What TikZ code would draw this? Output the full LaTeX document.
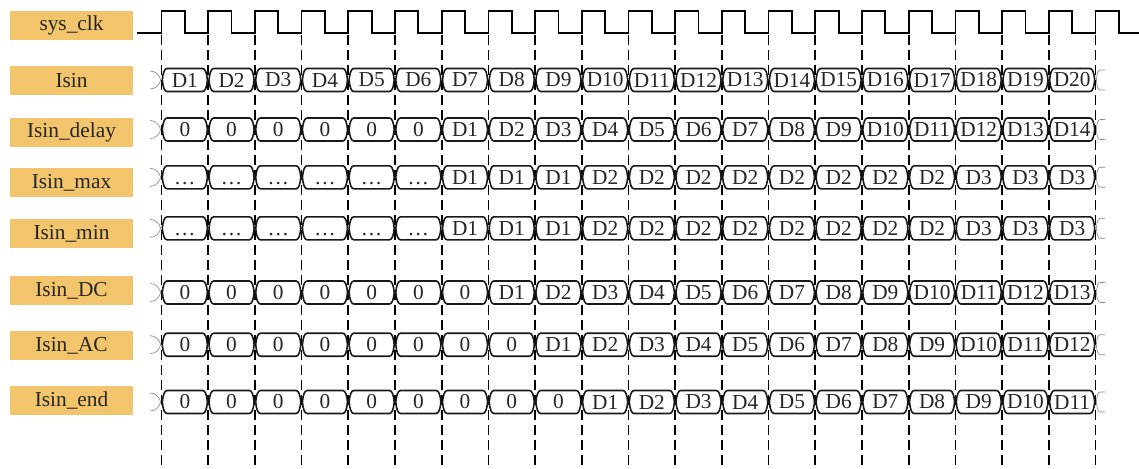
\documentclass[tikz,border=0pt]{standalone}
\usepackage{fontspec}
\setmainfont{Liberation Serif}
\usetikzlibrary{positioning}

\definecolor{labelgold}{HTML}{F2C46C}
\definecolor{leadgray}{HTML}{8C8C8C}

% one bus row: name, y of the centre line, values of the 20 cells
\newcommand{\busrow}[3]{%
  \draw[lead] (150,#2-9) .. controls (156,#2-9) and (159,#2-5) .. (160.8,#2);
  \draw[lead] (150,#2+9) .. controls (156,#2+9) and (159,#2+5) .. (160.8,#2);
  \foreach \val [count=\k from 0] in {#3} {
    \pgfmathsetmacro{\xl}{161.5+\k*46.7}
    \pgfmathsetmacro{\xr}{\xl+46.7}
    \draw[bus] (\xl+0.8,#2) .. controls (\xl+1.4,#2-7) and (\xl+3,#2-11.5) .. (\xl+5.5,#2-11.5)
      -- (\xr-5.5,#2-11.5) .. controls (\xr-3,#2-11.5) and (\xr-1.4,#2-7) .. (\xr-0.8,#2)
      .. controls (\xr-1.4,#2+7) and (\xr-3,#2+11.5) .. (\xr-5.5,#2+11.5)
      -- (\xl+5.5,#2+11.5) .. controls (\xl+3,#2+11.5) and (\xl+1.4,#2+7) .. cycle;
    \node[cell] (#1-\k) at (\xl+23.35,#2) {\vphantom{D}\val};
  }
  \draw[lead] (1096.3,#2) .. controls (1097,#2-7) and (1098,#2-10) .. (1100.5,#2-10) -- (1105,#2-10);
  \draw[lead] (1096.3,#2) .. controls (1097,#2+7) and (1098,#2+10) .. (1100.5,#2+10) -- (1105,#2+10);
}

\begin{document}
\begin{tikzpicture}[
  x=0.75pt, y=-0.75pt,
  lbl/.style={fill=labelgold, minimum width=92.25pt, minimum height=21.75pt, inner sep=0pt, font=\fontsize{16}{19}\selectfont, text=black!85},
  cell/.style={inner sep=0pt, font=\fontsize{16}{19}\selectfont, text=black!85},
  bus/.style={line width=1.2pt, black!90, line join=round},
  lead/.style={line width=0.5pt, leadgray},
  clk/.style={line width=1.3pt, black},
  guide/.style={line width=1.3pt, black, dash pattern=on 7.5pt off 3.75pt}
]
\useasboundingbox (0,0) rectangle (1139,468);

% Signal names
\node[lbl] (clk)   at (71.5,25)    {sys\_clk};
\node[lbl] (isin)  at (71.5,80.8)  {Isin};
\node[lbl] (delay) at (71.5,132)   {Isin\_delay};
\node[lbl] (max)   at (71.5,182.5) {Isin\_max};
\node[lbl] (min)   at (71.5,233.8) {Isin\_min};
\node[lbl] (dc)    at (71.5,290.5) {Isin\_DC};
\node[lbl] (ac)    at (71.5,345.5) {Isin\_AC};
\node[lbl] (end)   at (71.5,400.5) {Isin\_end};

% Clock edges
\foreach \i in {0,...,20} {
  \coordinate (t\i) at (161.5+\i*46.7,35);
  \coordinate (b\i) at (161.5+\i*46.7,468);
  \draw[guide] (t\i) -- (b\i);
}
\draw[clk] (137,33) foreach \i in {0,...,20} {
  -- (161.5+\i*46.7,33) -- (161.5+\i*46.7,11) -- (184.85+\i*46.7,11) -- (184.85+\i*46.7,33)
} -- (1139,33);

% Buses
\busrow{isin}{80}{D1,D2,D3,D4,D5,D6,D7,D8,D9,D10,D11,D12,D13,D14,D15,D16,D17,D18,D19,D20}
\busrow{delay}{129.5}{0,0,0,0,0,0,D1,D2,D3,D4,D5,D6,D7,D8,D9,D10,D11,D12,D13,D14}
\busrow{max}{177.3}{\dots,\dots,\dots,\dots,\dots,\dots,D1,D1,D1,D2,D2,D2,D2,D2,D2,D2,D2,D3,D3,D3}
\busrow{min}{228.3}{\dots,\dots,\dots,\dots,\dots,\dots,D1,D1,D1,D2,D2,D2,D2,D2,D2,D2,D2,D3,D3,D3}
\busrow{dc}{292.5}{0,0,0,0,0,0,0,D1,D2,D3,D4,D5,D6,D7,D8,D9,D10,D11,D12,D13}
\busrow{ac}{344.7}{0,0,0,0,0,0,0,0,D1,D2,D3,D4,D5,D6,D7,D8,D9,D10,D11,D12}
\busrow{end}{402}{0,0,0,0,0,0,0,0,0,D1,D2,D3,D4,D5,D6,D7,D8,D9,D10,D11}

\end{tikzpicture}
\end{document}
